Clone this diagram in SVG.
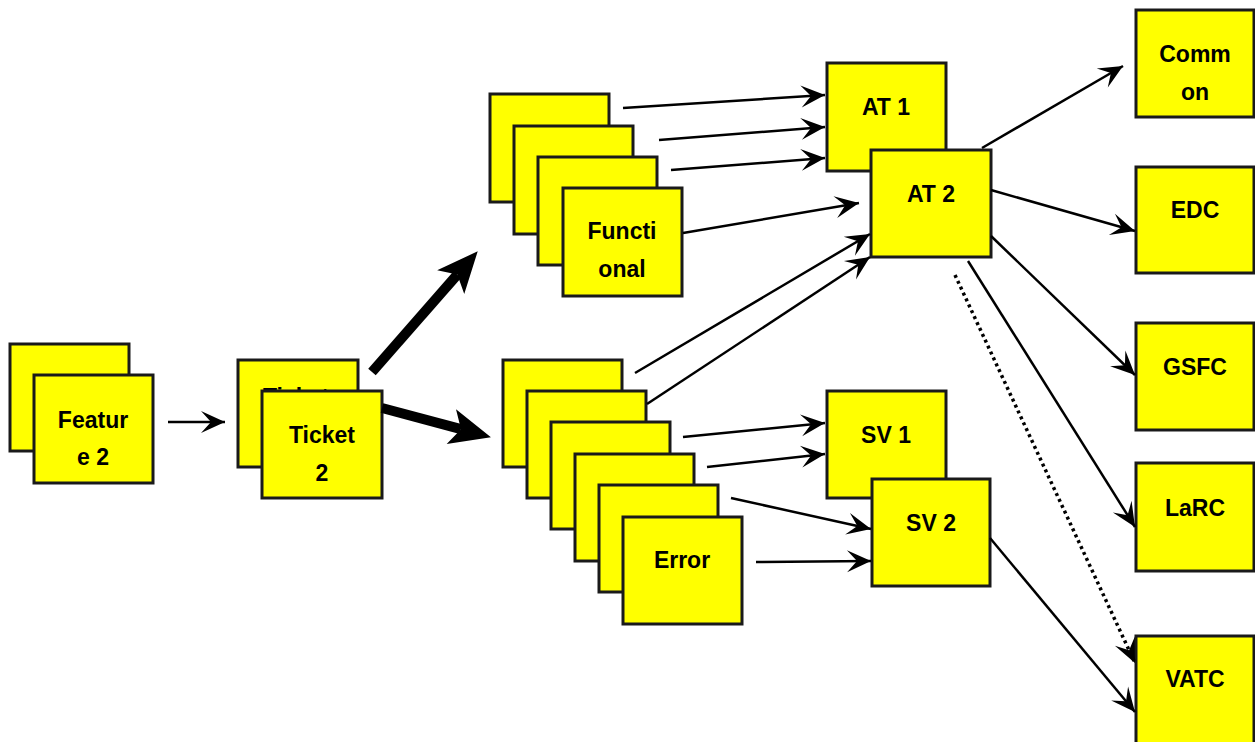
<svg xmlns="http://www.w3.org/2000/svg" width="1255" height="742" viewBox="0 0 1255 742">
<style>
.b{fill:#ffff00;stroke:#1a1a1a;stroke-width:3}
.t{font-family:"Liberation Sans",Arial,sans-serif;font-weight:bold;font-size:23px;fill:#000;text-anchor:middle}
.c{stroke:#000;stroke-width:2.5;fill:none;marker-end:url(#ah)}
.k{stroke:#000;stroke-width:10;fill:none;marker-end:url(#ahb)}
.d{stroke:#000;stroke-width:3.5;fill:none;stroke-dasharray:3 3.5;marker-end:url(#ah)}
</style>
<defs>
<marker id="ah" markerUnits="userSpaceOnUse" markerWidth="28" markerHeight="28" viewBox="-26 -14 28 28" refX="0" refY="0" orient="auto"><path d="M0,0 L-24,-11 L-14,0 L-24,11 Z" fill="#000"/></marker>
<marker id="ahb" markerUnits="userSpaceOnUse" markerWidth="50" markerHeight="44" viewBox="-12 -22 50 44" refX="0" refY="0" orient="auto"><path d="M31,0 L-10,-18 L0,0 L-10,18 Z" fill="#000"/></marker>
</defs>
<rect width="1255" height="742" fill="#fff"/>
<g id="feature">
<rect class="b" x="10" y="344" width="119" height="107"/>
<rect class="b" x="34" y="375" width="119" height="108"/>
<text class="t" x="93" y="428">Featur</text>
<text class="t" x="93" y="465">e 2</text>
</g>
<g id="ticket">
<rect class="b" x="238" y="360" width="120" height="107"/>
<text class="t" x="296" y="405">Ticket</text>
<rect class="b" x="262" y="391" width="120" height="107"/>
<text class="t" x="322" y="443">Ticket</text>
<text class="t" x="322" y="481">2</text>
</g>
<g id="functional">
<rect class="b" x="490" y="94" width="119" height="108"/>
<rect class="b" x="514" y="126" width="119" height="108"/>
<rect class="b" x="538" y="157" width="119" height="108"/>
<rect class="b" x="563" y="188" width="119" height="108"/>
<text class="t" x="622" y="239">Functi</text>
<text class="t" x="622" y="277">onal</text>
</g>
<g id="error">
<rect class="b" x="503" y="360" width="119" height="107"/>
<rect class="b" x="527" y="391" width="119" height="107"/>
<rect class="b" x="551" y="422" width="119" height="107"/>
<rect class="b" x="575" y="454" width="119" height="107"/>
<rect class="b" x="599" y="485" width="119" height="107"/>
<rect class="b" x="623" y="517" width="119" height="107"/>
<text class="t" x="682" y="568">Error</text>
</g>
<g id="at1">
<rect class="b" x="827" y="63" width="119" height="108"/>
<text class="t" x="886" y="115">AT 1</text>
</g>
<g id="at2">
<rect class="b" x="871" y="150" width="120" height="107"/>
<text class="t" x="931" y="202">AT 2</text>
</g>
<g id="sv1">
<rect class="b" x="827" y="391" width="119" height="107"/>
<text class="t" x="886" y="443">SV 1</text>
</g>
<g id="sv2">
<rect class="b" x="872" y="479" width="118" height="107"/>
<text class="t" x="931" y="531">SV 2</text>
</g>
<g id="common">
<rect class="b" x="1136" y="10" width="118" height="107"/>
<text class="t" x="1195" y="62">Comm</text>
<text class="t" x="1195" y="100">on</text>
</g>
<g id="edc">
<rect class="b" x="1136" y="167" width="118" height="106"/>
<text class="t" x="1195" y="218">EDC</text>
</g>
<g id="gsfc">
<rect class="b" x="1136" y="323" width="118" height="107"/>
<text class="t" x="1195" y="375">GSFC</text>
</g>
<g id="larc">
<rect class="b" x="1136" y="463" width="118" height="108"/>
<text class="t" x="1195" y="516">LaRC</text>
</g>
<g id="vatc">
<rect class="b" x="1136" y="636" width="118" height="110"/>
<text class="t" x="1195" y="687">VATC</text>
</g>
<g id="connectors">
<line class="c" x1="168" y1="422" x2="225" y2="422"/>
<line class="k" x1="372" y1="372" x2="457.3" y2="274.6"/>
<line class="k" x1="382" y1="408" x2="461" y2="429.2"/>
<line class="c" x1="623" y1="108" x2="825" y2="95"/>
<line class="c" x1="659" y1="140" x2="825" y2="127"/>
<line class="c" x1="671" y1="170" x2="825" y2="158"/>
<line class="c" x1="683" y1="233" x2="859" y2="203"/>
<line class="c" x1="635" y1="373" x2="870" y2="234"/>
<line class="c" x1="647" y1="404" x2="870" y2="257"/>
<line class="c" x1="683" y1="437" x2="825" y2="423"/>
<line class="c" x1="707" y1="467" x2="825" y2="454"/>
<line class="c" x1="731" y1="498" x2="871" y2="529"/>
<line class="c" x1="756" y1="562" x2="871" y2="561"/>
<line class="c" x1="982" y1="148" x2="1123" y2="66"/>
<line class="c" x1="991" y1="190" x2="1135" y2="231"/>
<line class="c" x1="991" y1="236" x2="1135" y2="375"/>
<line class="c" x1="968" y1="261" x2="1135" y2="527"/>
<line class="d" x1="955" y1="275" x2="1135" y2="663"/>
<line class="c" x1="990" y1="538" x2="1135" y2="712"/>
</g>
</svg>
